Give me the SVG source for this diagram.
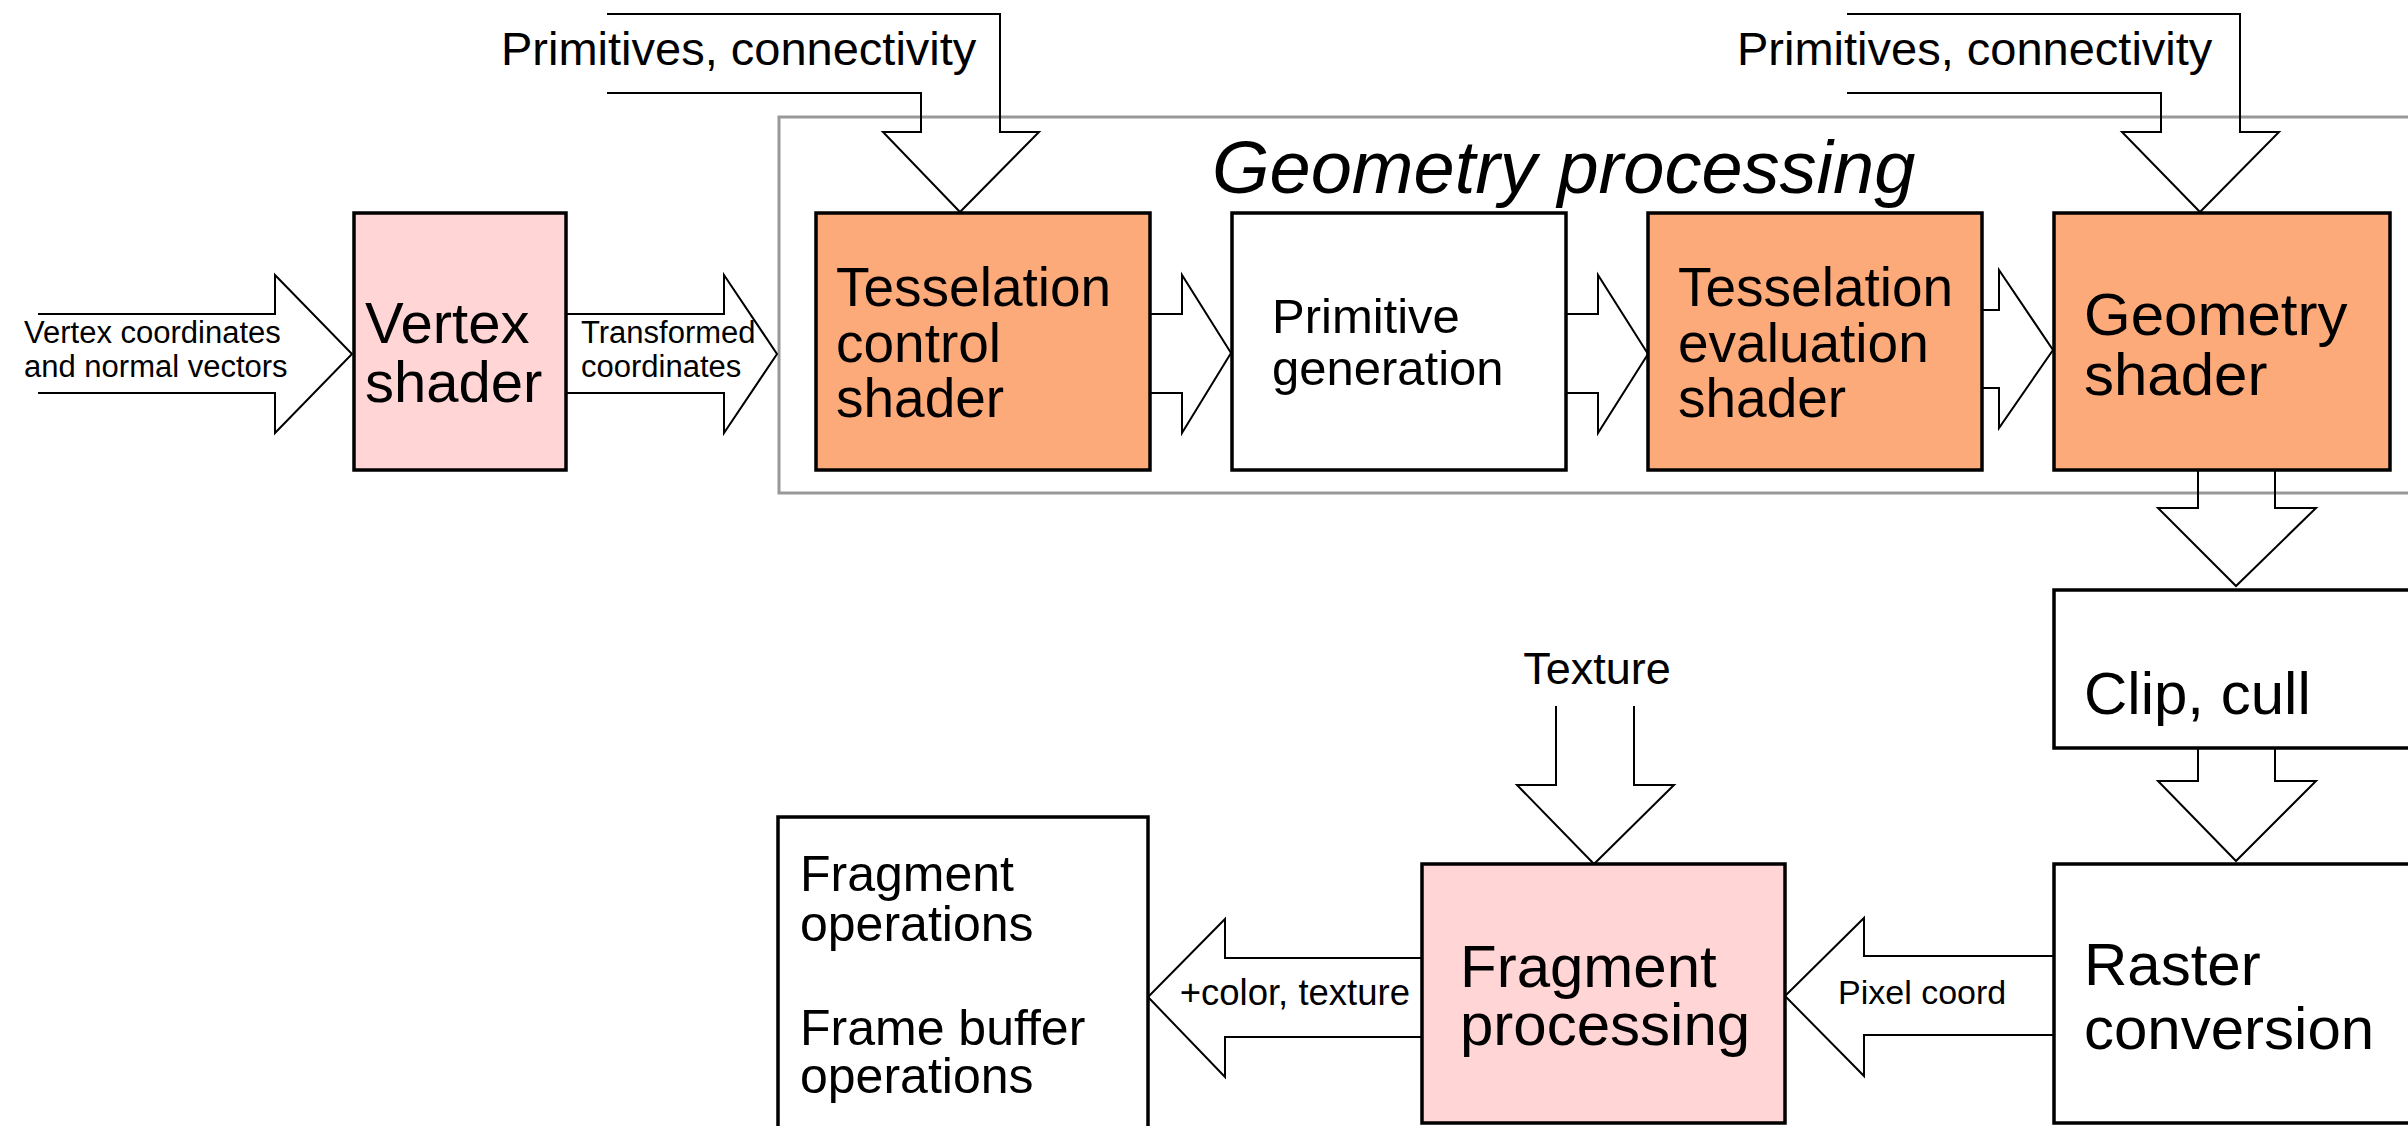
<svg xmlns="http://www.w3.org/2000/svg" width="2408" height="1126" viewBox="0 0 2408 1126">
<style>
text{font-family:"Liberation Sans",Arial,Helvetica,sans-serif;fill:#000}
.box{stroke:#000;stroke-width:3.5}
.pink{fill:#FFD5D5}
.orange{fill:#FDAA7A}
.white{fill:#fff}
.arr{fill:none;stroke:#000;stroke-width:2;stroke-linejoin:miter}
.small{font-size:31px}
.mid{font-size:47px}
.big{font-size:60px}
</style>
<rect id="geometry-processing" x="779" y="117" width="1700" height="376" fill="none" stroke="#999" stroke-width="3"/>
<text x="1212" y="193" font-size="74" font-style="italic">Geometry processing</text>

<g id="connectors">
<path class="arr" d="M38,314 H275 V275 L352,354 L275,433 V393 H38"/>
<path class="arr" d="M566,314 H724 V275 L777,354 L724,433 V393 H566"/>
<path class="arr" d="M1151,314 H1182 V275 L1231,353 L1182,433 V393 H1151"/>
<path class="arr" d="M1567,314 H1598 V275 L1648,354 L1598,433 V393 H1567"/>
<path class="arr" d="M1983,310 H1999 V270 L2053,350 L1999,428 V388 H1983"/>
<path class="arr" d="M607,14 H1000 V132 H1039 L960,212 L883,132 H921 V93 H607"/>
<path class="arr" d="M1847,14 H2240 V132 H2279 L2200,212 L2122,132 H2161 V93 H1847"/>
<path class="arr" d="M2198,471 V508 H2158 L2236,586 L2316,508 H2275 V471"/>
<path class="arr" d="M2198,749 V781 H2158 L2236,861 L2316,781 H2275 V749"/>
<path class="arr" d="M1556,706 V785 H1517 L1594,864 L1674,785 H1634 V706"/>
<path class="arr" d="M2054,956 H1864 V918 L1785,996 L1864,1076 V1035 H2054"/>
<path class="arr" d="M1422,958 H1225 V919 L1148,997 L1225,1077 V1037 H1422"/>
<text class="mid" x="501" y="65">Primitives, connectivity</text>
<text class="mid" x="1737" y="65">Primitives, connectivity</text>
<text class="small" x="24" y="343">Vertex coordinates</text>
<text class="small" x="24" y="377">and normal vectors</text>
<text class="small" x="581" y="343">Transformed</text>
<text class="small" x="581" y="377">coordinates</text>
<text x="1597" y="684" font-size="45" text-anchor="middle">Texture</text>
<text x="1838" y="1004" font-size="34">Pixel coord</text>
<text x="1410" y="1005" font-size="36.5" text-anchor="end">+color, texture</text>
</g>

<g id="vertex-shader">
<rect class="box pink" x="354" y="213" width="212" height="257"/>
<text x="365" y="343" font-size="58">Vertex</text>
<text x="365" y="402" font-size="58">shader</text>
</g>
<g id="tesselation-control-shader">
<rect class="box orange" x="816" y="213" width="334" height="257"/>
<text x="836" y="306" font-size="55">Tesselation</text>
<text x="836" y="362" font-size="55">control</text>
<text x="836" y="417" font-size="55">shader</text>
</g>
<g id="primitive-generation">
<rect class="box white" x="1232" y="213" width="334" height="257"/>
<text x="1272" y="333" font-size="49">Primitive</text>
<text x="1272" y="385" font-size="49">generation</text>
</g>
<g id="tesselation-evaluation-shader">
<rect class="box orange" x="1648" y="213" width="334" height="257"/>
<text x="1678" y="306" font-size="55">Tesselation</text>
<text x="1678" y="362" font-size="55">evaluation</text>
<text x="1678" y="417" font-size="55">shader</text>
</g>
<g id="geometry-shader">
<rect class="box orange" x="2054" y="213" width="336" height="257"/>
<text class="big" x="2084" y="335">Geometry</text>
<text class="big" x="2084" y="395">shader</text>
</g>
<g id="clip-cull">
<rect class="box white" x="2054" y="590" width="400" height="158"/>
<text class="big" x="2084" y="714">Clip, cull</text>
</g>
<g id="raster-conversion">
<rect class="box white" x="2054" y="864" width="400" height="259"/>
<text class="big" x="2084" y="985">Raster</text>
<text class="big" x="2084" y="1049">conversion</text>
</g>
<g id="fragment-processing">
<rect class="box pink" x="1422" y="864" width="363" height="259"/>
<text class="big" x="1460" y="987">Fragment</text>
<text class="big" x="1460" y="1045">processing</text>
</g>
<g id="fragment-operations">
<rect class="box white" x="778" y="817" width="370" height="350"/>
<text x="800" y="891" font-size="50">Fragment</text>
<text x="800" y="941" font-size="50">operations</text>
<text x="800" y="1045" font-size="50">Frame buffer</text>
<text x="800" y="1093" font-size="50">operations</text>
</g>
</svg>
